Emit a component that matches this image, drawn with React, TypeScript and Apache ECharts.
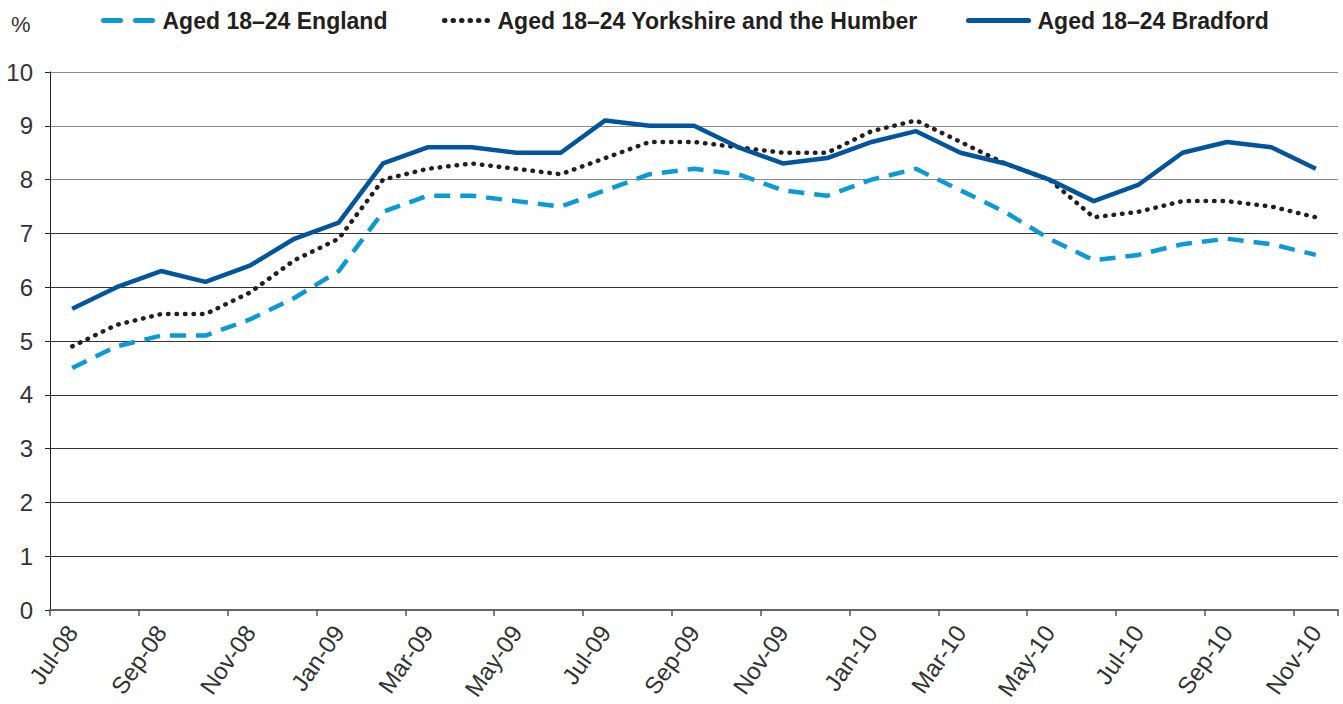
import React, { useEffect, useRef } from "react";
import * as echarts from "echarts";

const months = [
  "Jul-08","Aug-08","Sep-08","Oct-08","Nov-08","Dec-08",
  "Jan-09","Feb-09","Mar-09","Apr-09","May-09","Jun-09",
  "Jul-09","Aug-09","Sep-09","Oct-09","Nov-09","Dec-09",
  "Jan-10","Feb-10","Mar-10","Apr-10","May-10","Jun-10",
  "Jul-10","Aug-10","Sep-10","Oct-10","Nov-10",
];

const england = [
  4.5, 4.9, 5.1, 5.1, 5.4, 5.8, 6.3, 7.4, 7.7, 7.7, 7.6, 7.5, 7.8, 8.1, 8.2,
  8.1, 7.8, 7.7, 8.0, 8.2, 7.8, 7.4, 6.9, 6.5, 6.6, 6.8, 6.9, 6.8, 6.6,
];
const yorkshire = [
  4.9, 5.3, 5.5, 5.5, 5.9, 6.5, 6.9, 8.0, 8.2, 8.3, 8.2, 8.1, 8.4, 8.7, 8.7,
  8.6, 8.5, 8.5, 8.9, 9.1, 8.7, 8.3, 8.0, 7.3, 7.4, 7.6, 7.6, 7.5, 7.3,
];
const bradford = [
  5.6, 6.0, 6.3, 6.1, 6.4, 6.9, 7.2, 8.3, 8.6, 8.6, 8.5, 8.5, 9.1, 9.0, 9.0,
  8.6, 8.3, 8.4, 8.7, 8.9, 8.5, 8.3, 8.0, 7.6, 7.9, 8.5, 8.7, 8.6, 8.2,
];

const seriesNames = [
  "Aged 18\u201324 England",
  "Aged 18\u201324 Yorkshire and the Humber",
  "Aged 18\u201324 Bradford",
];

const FONT = "'Liberation Sans', Arial, Helvetica, sans-serif";
const C_ENG = "#0b9ad6";
const C_YOR = "#231f20";
const C_BRA = "#00559e";

const legendText = {
  fontSize: 23,
  fontWeight: "bold",
  color: "#231f20",
  fontFamily: FONT,
  padding: [0, 0, 0, 4],
};

export default function App() {
  const ref = useRef<HTMLDivElement>(null);
  useEffect(() => {
    if (!ref.current) return;
    const chart = echarts.init(ref.current, null, { renderer: "svg" });
    chart.setOption({
      animation: false,
      textStyle: { fontFamily: FONT },
      grid: { left: 50, right: 5, top: 72, bottom: 94, containLabel: false },
      legend: [
        {
          top: 4,
          left: 96,
          itemWidth: 50,
          itemHeight: 16,
          itemStyle: { opacity: 0 },
          textStyle: legendText,
          data: [
            {
              name: seriesNames[0],
              lineStyle: { width: 5, type: [17, 15], color: C_ENG, cap: "round" },
            },
          ],
        },
        {
          top: 4,
          left: 437,
          itemWidth: 44,
          itemHeight: 16,
          itemStyle: { opacity: 0 },
          textStyle: legendText,
          data: [
            {
              name: seriesNames[1],
              lineStyle: { width: 5, type: [0.5, 8], color: C_YOR, cap: "round" },
            },
          ],
        },
        {
          top: 4,
          left: 961,
          itemWidth: 60,
          itemHeight: 16,
          itemStyle: { opacity: 0 },
          textStyle: legendText,
          data: [
            {
              name: seriesNames[2],
              lineStyle: { width: 5, type: "solid", color: C_BRA, cap: "round" },
            },
          ],
        },
      ],
      graphic: [
        {
          type: "text",
          left: 11,
          top: 13,
          style: { text: "%", fontSize: 22, fill: "#333", fontFamily: FONT },
        },
      ],
      xAxis: {
        type: "category",
        data: months,
        boundaryGap: true,
        axisLine: { lineStyle: { color: "#666", width: 2 } },
        axisTick: { show: true, interval: 1, length: 6, lineStyle: { color: "#555", width: 1.5 } },
        axisLabel: {
          interval: 1,
          rotate: 55,
          fontSize: 24,
          color: "#333",
          margin: 18,
          fontFamily: FONT,
        },
      },
      yAxis: {
        type: "value",
        min: 0,
        max: 10,
        interval: 1,
        axisLine: { show: true, lineStyle: { color: "#222", width: 1 } },
        axisTick: { show: true, length: 5, lineStyle: { color: "#222" } },
        axisLabel: { fontSize: 24, color: "#333", margin: 17, fontFamily: FONT },
        splitLine: {
          show: true,
          lineStyle: {
            color: ["#444", "#333", "#333", "#333", "#333", "#333", "#333", "#333", "#8a8a8a", "#8a8a8a", "#8a8a8a"],
            width: 1.2,
          },
        },
      },
      series: [
        {
          name: seriesNames[0],
          type: "line",
          data: england,
          symbol: "none",
          lineStyle: { color: C_ENG, width: 4.5, type: [16, 10] },
          itemStyle: { color: C_ENG },
          z: 3,
        },
        {
          name: seriesNames[1],
          type: "line",
          data: yorkshire,
          symbol: "none",
          lineStyle: { color: C_YOR, width: 4.5, type: [0.5, 8], cap: "round" },
          itemStyle: { color: C_YOR },
          z: 4,
        },
        {
          name: seriesNames[2],
          type: "line",
          data: bradford,
          symbol: "none",
          lineStyle: { color: C_BRA, width: 4.5 },
          itemStyle: { color: C_BRA },
          z: 5,
        },
      ],
    });
    return () => chart.dispose();
  }, []);
  return <div ref={ref} style={{ width: 1343, height: 704, position: "absolute", left: 0, top: 0 }} />;
}
